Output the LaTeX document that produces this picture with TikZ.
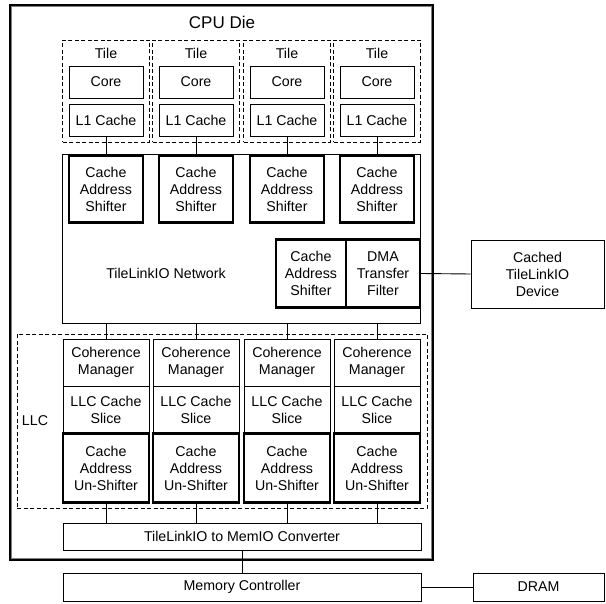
\documentclass[tikz,border=0pt]{standalone}
\usepackage{fontspec}
\setmainfont{Liberation Sans}
\begin{document}
\begin{tikzpicture}[x=1pt,y=-1pt,
  txt/.style={font=\fontsize{14.2}{17}\selectfont, align=center, inner sep=0pt},
  box/.style={txt, draw, line width=0.9pt, rectangle},
  tbox/.style={txt, draw, line width=2.4pt, rectangle},
  dbox/.style={draw, line width=0.9pt, dash pattern=on 4pt off 2.5pt, rectangle, inner sep=0pt},
  wire/.style={line width=0.9pt}]
\useasboundingbox (0,0) rectangle (606,604);

% die outline (double rule) and title
\node[draw, line width=1.2pt, rectangle, inner sep=0pt, minimum width=423pt, minimum height=555pt] (die) at (221.5,282.5) {};
\draw[line width=0.6pt, gray] ([xshift=2.2pt,yshift=-2.2pt]die.north west) rectangle ([xshift=-2.2pt,yshift=2.2pt]die.south east);
\node[txt, font=\fontsize{17}{20}\selectfont] (title) at (222,22) {CPU Die};

% interconnect network
\node[box, minimum width=358pt, minimum height=169pt] (net) at (241,238.5) {};
\node[txt] (netlbl) at (166,273) {TileLinkIO Network};

% last-level cache region
\node[dbox, minimum width=410pt, minimum height=174pt] (llc) at (222,421) {};
\node[txt] (llclbl) at (35,421) {LLC};

% tiles, shifters and cache slices
\foreach \i/\x in {1/106,2/196,3/287,4/377} {
  \node[dbox, minimum width=87pt, minimum height=102pt] (tile\i) at (\x,91) {};
  \node[txt] (tlbl\i) at (\x,53) {Tile};
  \node[box, minimum width=74pt, minimum height=32pt] (core\i) at (\x,82) {Core};
  \node[box, minimum width=74pt, minimum height=32pt] (l1\i) at (\x,120) {L1 Cache};
  \node[tbox, minimum width=74pt, minimum height=67pt] (sh\i) at (\x,189) {Cache\\Address\\Shifter};
  \node[box, minimum width=86pt, minimum height=47pt] (cm\i) at (\x,362.5) {Coherence\\Manager};
  \node[box, minimum width=86pt, minimum height=47pt] (sl\i) at (\x,409.5) {LLC Cache\\Slice};
  \node[tbox, minimum width=86pt, minimum height=69pt] (un\i) at (\x,468) {Cache\\Address\\Un-Shifter};
}

% device port of the network
\node[tbox, minimum width=70pt, minimum height=68pt] (sh5) at (311,273.5) {Cache\\Address\\Shifter};
\node[tbox, minimum width=74pt, minimum height=68pt] (dma) at (383,273.5) {DMA\\Transfer\\Filter};
\node[box, minimum width=133pt, minimum height=68pt] (dev) at (537.5,274) {Cached\\TileLinkIO\\Device};

% memory side
\node[box, minimum width=358pt, minimum height=27pt] (conv) at (242,536.5) {TileLinkIO to MemIO Converter};
\node[box, minimum width=358pt, minimum height=28pt] (mc) at (242,587) {Memory Controller};
\node[box, minimum width=131pt, minimum height=28pt] (dram) at (538.5,587) {DRAM};

% connectors
\foreach \i in {1,2,3,4} {
  \draw[wire] (l1\i.south) -- (sh\i.north);
  \draw[wire] (cm\i.north |- net.south) -- (cm\i.north);
  \draw[wire] (un\i.south) -- (un\i.south |- conv.north);
}
\draw[wire] (dma.east) -- (dev.west);
\draw[wire] (conv.south) -- (mc.north);
\draw[wire] (mc.east) -- (dram.west);
\end{tikzpicture}
\end{document}
